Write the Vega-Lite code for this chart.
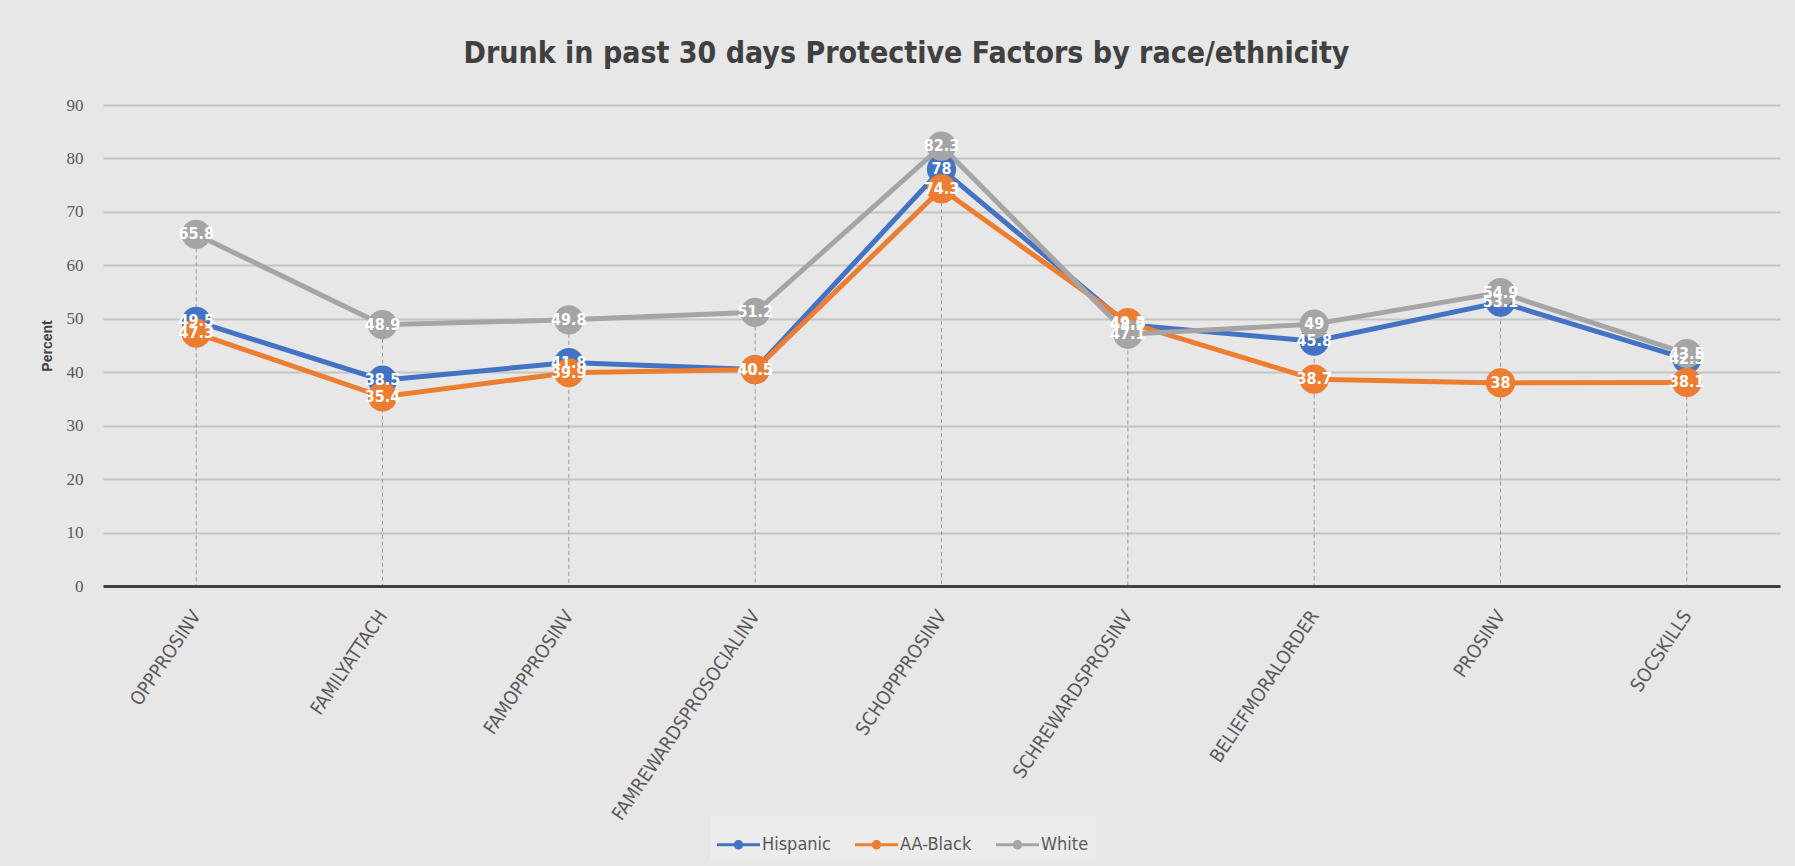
{
  "$schema": "https://vega.github.io/schema/vega-lite/v6.json",
  "autosize": {"type": "none"},
  "width": 1677,
  "height": 481,
  "padding": {"left": 103, "top": 105, "right": 15, "bottom": 280},
  "background": "#e7e7e7",
  "title": {
    "text": "Drunk in past 30 days Protective Factors by race/ethnicity",
    "font": "'DejaVu Sans Condensed', Roboto, sans-serif",
    "fontSize": 30,
    "fontWeight": "bold",
    "color": "#404040",
    "anchor": "middle",
    "offset": 27,
    "dx": -35
  },
  "config": {
    "view": {"stroke": null},
    "font": "'DejaVu Sans Condensed', Roboto, sans-serif"
  },
  "data": {
    "values": [
      {"factor": "OPPPROSINV", "group": "Hispanic", "value": 49.5},
      {"factor": "FAMILYATTACH", "group": "Hispanic", "value": 38.5},
      {"factor": "FAMOPPPROSINV", "group": "Hispanic", "value": 41.8},
      {"factor": "FAMREWARDSPROSOCIALINV", "group": "Hispanic", "value": 40.5},
      {"factor": "SCHOPPPROSINV", "group": "Hispanic", "value": 78},
      {"factor": "SCHREWARDSPROSINV", "group": "Hispanic", "value": 48.9},
      {"factor": "BELIEFMORALORDER", "group": "Hispanic", "value": 45.8},
      {"factor": "PROSINV", "group": "Hispanic", "value": 53.1},
      {"factor": "SOCSKILLS", "group": "Hispanic", "value": 42.5},
      {"factor": "OPPPROSINV", "group": "AA-Black", "value": 47.3},
      {"factor": "FAMILYATTACH", "group": "AA-Black", "value": 35.4},
      {"factor": "FAMOPPPROSINV", "group": "AA-Black", "value": 39.9},
      {"factor": "FAMREWARDSPROSOCIALINV", "group": "AA-Black", "value": 40.5},
      {"factor": "SCHOPPPROSINV", "group": "AA-Black", "value": 74.3},
      {"factor": "SCHREWARDSPROSINV", "group": "AA-Black", "value": 49.3},
      {"factor": "BELIEFMORALORDER", "group": "AA-Black", "value": 38.7},
      {"factor": "PROSINV", "group": "AA-Black", "value": 38},
      {"factor": "SOCSKILLS", "group": "AA-Black", "value": 38.1},
      {"factor": "OPPPROSINV", "group": "White", "value": 65.8},
      {"factor": "FAMILYATTACH", "group": "White", "value": 48.9},
      {"factor": "FAMOPPPROSINV", "group": "White", "value": 49.8},
      {"factor": "FAMREWARDSPROSOCIALINV", "group": "White", "value": 51.2},
      {"factor": "SCHOPPPROSINV", "group": "White", "value": 82.3},
      {"factor": "SCHREWARDSPROSINV", "group": "White", "value": 47.1},
      {"factor": "BELIEFMORALORDER", "group": "White", "value": 49},
      {"factor": "PROSINV", "group": "White", "value": 54.9},
      {"factor": "SOCSKILLS", "group": "White", "value": 43.5}
    ]
  },
  "encoding": {
    "x": {
      "field": "factor",
      "type": "nominal",
      "sort": null,
      "scale": {"type": "point", "padding": 0.5},
      "axis": {
        "title": null,
        "labelAngle": -56,
        "labelAlign": "right",
        "labelBaseline": "middle",
        "labelPadding": 26,
        "labelLimit": 0,
        "labelFont": "'DejaVu Sans Condensed', Roboto, sans-serif",
        "labelFontSize": 19,
        "labelColor": "#595959",
        "ticks": false,
        "domain": true,
        "domainColor": "#404040",
        "domainWidth": 3,
        "grid": false,
        "zindex": 1
      }
    },
    "y": {
      "field": "value",
      "type": "quantitative",
      "scale": {"domain": [0, 90], "nice": false},
      "axis": {
        "title": "Percent",
        "titleFont": "Liberation Sans",
        "titleFontSize": 14,
        "titleFontWeight": "bold",
        "titleColor": "#404040",
        "titlePadding": 12,
        "values": [0, 10, 20, 30, 40, 50, 60, 70, 80, 90],
        "labelFont": "Liberation Serif",
        "labelFontSize": 17,
        "labelColor": "#595959",
        "labelPadding": 20,
        "ticks": false,
        "domain": false,
        "grid": true,
        "gridColor": "#c4c4c4",
        "gridWidth": 2
      }
    }
  },
  "layer": [
    {
      "transform": [
        {"aggregate": [{"op": "max", "field": "value", "as": "top"}], "groupby": ["factor"]}
      ],
      "mark": {"type": "rule", "color": "#9a9a9a", "strokeWidth": 1, "strokeDash": [4, 3]},
      "encoding": {
        "y": {"field": "top", "type": "quantitative"},
        "y2": {"datum": 0}
      }
    },
    {
      "mark": {"type": "line", "strokeWidth": 5},
      "encoding": {
        "color": {
          "field": "group",
          "type": "nominal",
          "sort": null,
          "scale": {"domain": ["Hispanic", "AA-Black", "White"], "range": ["#4472C4", "#ED7D31", "#A5A5A5"]},
          "legend": {
            "title": null,
            "orient": "none",
            "legendX": 607,
            "legendY": 711,
            "direction": "horizontal",
            "fillColor": "#ececec",
            "padding": 7,
            "symbolType": "M-1,-0.07L1,-0.07L1,0.07L-1,0.07Z M0.22,0A0.22,0.22 0 1,1 -0.22,0A0.22,0.22 0 1,1 0.22,0Z",
            "symbolSize": 1849,
            "symbolStrokeWidth": 0,
            "labelFont": "'DejaVu Sans Condensed', Roboto, sans-serif",
            "labelFontSize": 18,
            "labelColor": "#595959",
            "labelOffset": 2,
            "columnPadding": 24,
            "encode": {
              "symbols": {
                "update": {
                  "fill": {"scale": "color", "field": "value"},
                  "opacity": {"value": 1}
                }
              }
            }
          }
        }
      }
    },
    {
      "mark": {"type": "point", "filled": true, "opacity": 1, "size": 855, "shape": "circle"},
      "encoding": {
        "color": {"field": "group", "type": "nominal", "sort": null}
      }
    },
    {
      "mark": {
        "type": "text",
        "color": "white",
        "font": "'DejaVu Sans Condensed', Roboto, sans-serif",
        "fontSize": 16,
        "fontWeight": "bold",
        "align": "center",
        "baseline": "middle"
      },
      "encoding": {
        "text": {"field": "value", "type": "quantitative"}
      }
    }
  ]
}
